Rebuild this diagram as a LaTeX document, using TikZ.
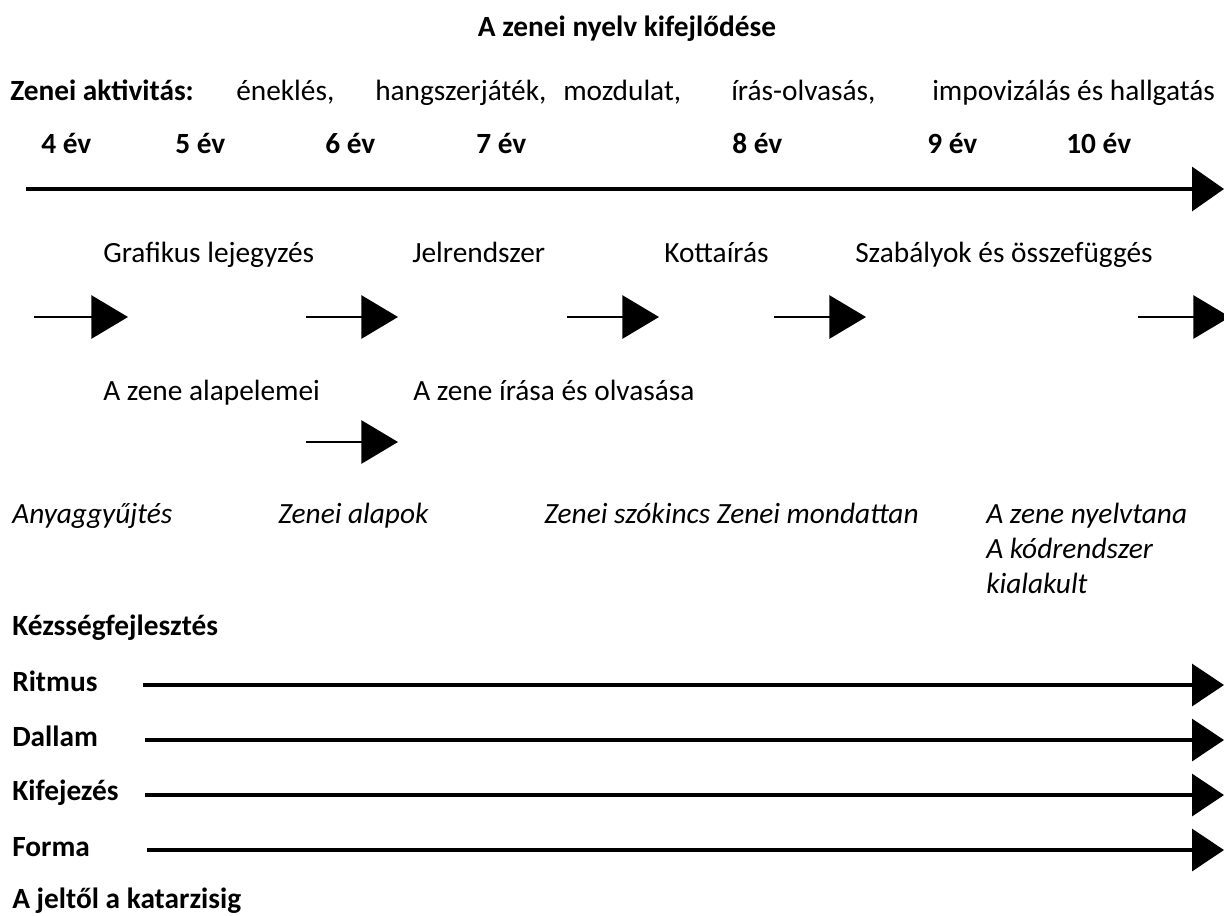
\documentclass[tikz,border=0pt]{standalone}
\usepackage{fontspec}
\setmainfont{Carlito}
\usetikzlibrary{arrows.meta}
\begin{document}
\begin{tikzpicture}[x=0.75pt,y=-0.75pt,
  txt/.style={anchor=base west,inner sep=0pt,font=\fontsize{22}{26}\selectfont},
  btxt/.style={txt,font=\fontsize{22}{26}\selectfont\bfseries},
  itxt/.style={txt,font=\fontsize{22}{26}\selectfont\itshape},
  bigarrow/.style={line width=2.6pt,-{Triangle[length=24pt,width=33pt]}},
  skillarrow/.style={line width=2.6pt,-{Triangle[length=24pt,width=31.5pt]}},
  smallarrow/.style={line width=1.3pt,-{Triangle[length=27.5pt,width=32.5pt]}}]
\useasboundingbox (0,0) rectangle (1224,915);
% title
\node[btxt,anchor=base] (title) at (627,36) {A zenei nyelv kifejlődése};
% activities
\node[btxt] (akt) at (10,100) {Zenei aktivitás:};
\node[txt] (enek) at (236,100) {éneklés,};
\node[txt] (hang) at (375,100) {hangszerjáték,};
\node[txt] (mozd) at (563,100) {mozdulat,};
\node[txt] (iras) at (731,100) {írás-olvasás,};
\node[txt] (impo) at (932,100) {impovizálás és hallgatás};
% ages
\node[btxt] (e4) at (41,153) {4 év};
\node[btxt] (e5) at (175,153) {5 év};
\node[btxt] (e6) at (325,153) {6 év};
\node[btxt] (e7) at (476,153) {7 év};
\node[btxt] (e8) at (732,153) {8 év};
\node[btxt] (e9) at (927,153) {9 év};
\node[btxt] (e10) at (1066,153) {10 év};
% main arrow
\coordinate (ms) at (26,189);
\coordinate (me) at (1224,189);
\draw[bigarrow] (ms) -- (me);
% row 2
\node[txt] (graf) at (103,262) {Grafikus lejegyzés};
\node[txt] (jel) at (412,262) {Jelrendszer};
\node[txt] (kotta) at (664,262) {Kottaírás};
\node[txt] (szab) at (855,262) {Szabályok és összefüggés};
% small arrows row
\coordinate (a1s) at (34,317);  \coordinate (a1e) at (128,317);
\coordinate (a2s) at (306,317); \coordinate (a2e) at (398,317);
\coordinate (a3s) at (567,317); \coordinate (a3e) at (659,317);
\coordinate (a4s) at (774,317); \coordinate (a4e) at (866,317);
\coordinate (a5s) at (1138,317); \coordinate (a5e) at (1230,317);
\draw[smallarrow] (a1s) -- (a1e);
\draw[smallarrow] (a2s) -- (a2e);
\draw[smallarrow] (a3s) -- (a3e);
\draw[smallarrow] (a4s) -- (a4e);
\draw[smallarrow] (a5s) -- (a5e);
% row 4
\node[txt] (alap) at (103,400) {A zene alapelemei};
\node[txt] (irasa) at (413,400) {A zene írása és olvasása};
\coordinate (a6s) at (306,442); \coordinate (a6e) at (398,442);
\draw[smallarrow] (a6s) -- (a6e);
% italic row
\node[itxt] (anyag) at (12,523) {Anyaggyűjtés};
\node[itxt] (zalap) at (278,523) {Zenei alapok};
\node[itxt] (szok) at (544,523) {Zenei szókincs Zenei mondattan};
\node[itxt] (nyelv) at (986,523) {A zene nyelvtana};
\node[itxt] (kod) at (986,558) {A kódrendszer};
\node[itxt] (kial) at (986,593) {kialakult};
% skills
\node[btxt] (kez) at (12,635) {Kézsségfejlesztés};
\node[btxt] (rit) at (12,691) {Ritmus};
\node[btxt] (dal) at (12,746) {Dallam};
\node[btxt] (kif) at (12,800) {Kifejezés};
\node[btxt] (for) at (12,856) {Forma};
\node[btxt] (kat) at (12,908) {A jeltől a katarzisig};
\coordinate (rs) at (143,685); \coordinate (re) at (1224,685);
\coordinate (ds) at (145,740); \coordinate (de) at (1224,740);
\coordinate (ks) at (145,795); \coordinate (ke) at (1224,795);
\coordinate (fs) at (147,850); \coordinate (fe) at (1224,850);
\draw[skillarrow] (rs) -- (re);
\draw[skillarrow] (ds) -- (de);
\draw[skillarrow] (ks) -- (ke);
\draw[skillarrow] (fs) -- (fe);
\end{tikzpicture}
\end{document}
